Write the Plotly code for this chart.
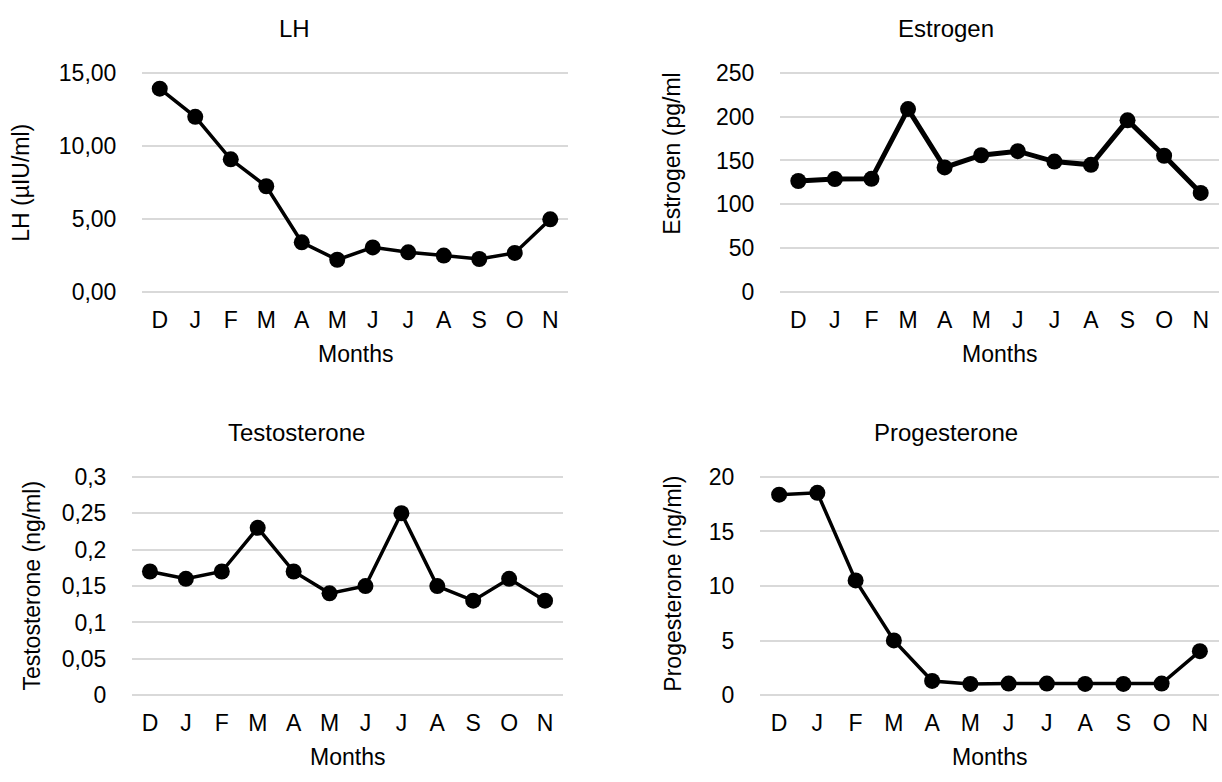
import plotly.graph_objects as go

months = ["Dec", "Jan", "Feb", "Mar", "Apr", "May", "Jun", "Jul", "Aug", "Sep", "Oct", "Nov"]
month_labels = ["D", "J", "F", "M", "A", "M", "J", "J", "A", "S", "O", "N"]

lh = [13.93, 12.0, 9.08, 7.23, 3.38, 2.18, 3.03, 2.69, 2.47, 2.23, 2.65, 4.96]
estrogen = [126.5, 128.7, 129.0, 208.8, 142.0, 156.0, 160.6, 148.7, 145.0, 196.0, 155.4, 112.8]
testosterone = [0.17, 0.16, 0.17, 0.23, 0.17, 0.14, 0.15, 0.25, 0.15, 0.13, 0.16, 0.13]
progesterone = [18.37, 18.54, 10.52, 5.02, 1.31, 1.04, 1.07, 1.07, 1.04, 1.04, 1.07, 4.04]

lh_tickvals = [0, 5, 10, 15]
lh_ticktext = ["0,00", "5,00", "10,00", "15,00"]
es_tickvals = [0, 50, 100, 150, 200, 250]
es_ticktext = ["0", "50", "100", "150", "200", "250"]
te_tickvals = [0, 0.05, 0.1, 0.15, 0.2, 0.25, 0.3]
te_ticktext = ["0", "0,05", "0,1", "0,15", "0,2", "0,25", "0,3"]
pr_tickvals = [0, 5, 10, 15, 20]
pr_ticktext = ["0", "5", "10", "15", "20"]

titles = ["LH", "Estrogen", "Testosterone", "Progesterone"]
ytitles = ["LH (µIU/ml)", "Estrogen (pg/ml", "Testosterone (ng/ml)", "Progesterone (ng/ml)"]
xtitle = "Months"

W, H = 1222, 782
FONT = "Liberation Sans, Arial, sans-serif"
FS = 23
FS_TITLE = 24
GRID = "#d9d9d9"

# panel geometry in pixels: (left, right, top, bottom)
panels = [
    (142, 568, 64, 289),
    (780, 1219, 64, 289),
    (132, 563, 480, 705),
    (760, 1219, 480, 705),
]
series = [lh, estrogen, testosterone, progesterone]
ymax = [15, 250, 0.3, 20]
tickvals = [lh_tickvals, es_tickvals, te_tickvals, pr_tickvals]
ticktexts = [lh_ticktext, es_ticktext, te_ticktext, pr_ticktext]
linewidths = [3.5, 5, 3.5, 3.5]
title_pos = [(294, 18), (946, 18), (296, 434), (946, 434)]
ytitle_pos = [(21, 177), (672, 147), (32, 592), (673, 590)]
xtitle_y = [353, 353, 769, 769]
PAD = 1.5

fig = go.Figure()
annotations = []
layout = {}
for i in range(4):
    n = "" if i == 0 else str(i + 1)
    l, r, t, b = panels[i]
    h = b - t
    hi = ymax[i]
    fig.add_trace(go.Scatter(
        x=months, y=series[i], mode="lines+markers",
        line=dict(color="black", width=linewidths[i]),
        marker=dict(color="black", size=16),
        xaxis="x" + n, yaxis="y" + n, showlegend=False,
        cliponaxis=False,
    ))
    layout["xaxis" + n] = dict(
        domain=[l / W, r / W], anchor="y" + n, type="category",
        categoryorder="array", categoryarray=months,
        tickvals=months, ticktext=month_labels,
        range=[-0.5, 11.5], showgrid=False, zeroline=False, showline=False,
        ticks="outside", ticklen=6, tickcolor="rgba(0,0,0,0)",
        tickfont=dict(family=FONT, size=FS, color="black"),
        fixedrange=True,
    )
    layout["yaxis" + n] = dict(
        domain=[1 - (b + PAD) / H, 1 - (t - PAD) / H], anchor="x" + n,
        range=[-hi * PAD / h, hi * (1 + PAD / h)],
        tickvals=tickvals[i], ticktext=ticktexts[i],
        showgrid=True, gridcolor=GRID, gridwidth=2, zeroline=False, showline=False,
        ticks="outside", ticklen=20, tickcolor="rgba(0,0,0,0)",
        tickfont=dict(family=FONT, size=FS, color="black"),
        fixedrange=True,
    )
    tx, ty = title_pos[i]
    annotations.append(dict(text=titles[i], x=tx / W, y=1 - ty / H, xref="paper", yref="paper",
                            xanchor="center", yanchor="middle", showarrow=False,
                            font=dict(family=FONT, size=FS_TITLE, color="black")))
    yx, yy = ytitle_pos[i]
    annotations.append(dict(text=ytitles[i], x=yx / W, y=1 - yy / H, xref="paper", yref="paper",
                            xanchor="center", yanchor="middle", showarrow=False, textangle=-90,
                            font=dict(family=FONT, size=FS, color="black")))
    annotations.append(dict(text=xtitle, x=(l + r) / 2 / W, y=1 - xtitle_y[i] / H, xref="paper", yref="paper",
                            xanchor="center", yanchor="middle", showarrow=False,
                            font=dict(family=FONT, size=FS, color="black")))

fig.update_layout(
    width=W, height=H,
    margin=dict(l=0, r=0, t=0, b=0),
    paper_bgcolor="white", plot_bgcolor="white",
    annotations=annotations,
    font=dict(family=FONT, size=FS, color="black"),
    hovermode=False,
    **layout,
)
fig.write_html(
    "out.html",
    config={"displayModeBar": False, "staticPlot": True},
    post_script="document.body.style.margin='0px';document.documentElement.style.overflow='hidden';",
)
